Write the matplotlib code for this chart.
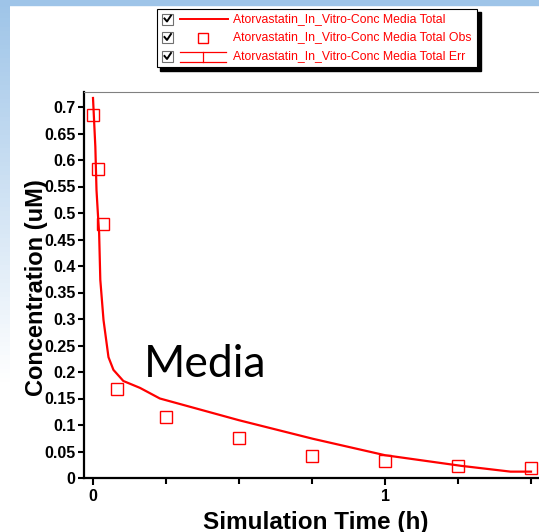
"""
Atorvastatin in-vitro media concentration: simulated total vs observed,
drawn as a slide panel with the checkbox-style series legend on top.

Output: out.png
"""

import matplotlib.pyplot as plt
import numpy as np
from matplotlib.lines import Line2D
from matplotlib.patches import Rectangle
from matplotlib.ticker import FixedLocator, FuncFormatter

W, H, DPI = 539, 532, 100
RED = "#ff0000"

# simulated media total (h, uM)
sim_time = [0.0, 0.008, 0.012, 0.018, 0.021, 0.025, 0.036, 0.053, 0.070,
            0.104, 0.161, 0.229, 0.5, 0.753, 1.0, 1.26, 1.43, 1.5]
sim_conc = [0.717, 0.625, 0.543, 0.487, 0.462, 0.374, 0.298, 0.228, 0.204,
            0.183, 0.170, 0.150, 0.109, 0.074, 0.043, 0.023, 0.012, 0.012]

# observed media total (h, uM)
obs_time = [0.0, 0.0167, 0.0333, 0.0833, 0.25, 0.5, 0.75, 1.0, 1.25, 1.5]
obs_conc = [0.684, 0.583, 0.479, 0.168, 0.115, 0.075, 0.042, 0.032, 0.023, 0.019]

series_names = [
    "Atorvastatin_In_Vitro-Conc Media Total",
    "Atorvastatin_In_Vitro-Conc Media Total Obs",
    "Atorvastatin_In_Vitro-Conc Media Total Err",
]

y_ticks = [0.05 * k for k in range(15)]
x_major = [0, 1]
x_minor = [0.25, 0.5, 0.75, 1.25, 1.5]

BOLD = dict(family="Liberation Sans", weight="bold")


def px(x, y):
    """pixel position (origin top-left) -> figure fraction"""
    return x / W, 1 - y / H


def main():
    fig = plt.figure(figsize=(W / DPI, H / DPI), dpi=DPI)

    # slide background: blue band on top, fading blue strip on the left
    bg = fig.add_axes([0, 0, 1, 1], zorder=-5)
    bg.set_xlim(0, W)
    bg.set_ylim(H, 0)
    bg.axis("off")
    blue = np.array([0.62, 0.77, 0.91])
    fade = np.clip(np.linspace(0, 1, 100) / 0.85, 0, 1)[:, None]
    strip = blue * (1 - fade) + 1.0 * fade
    bg.imshow(strip[:, None, :], extent=(0, 10, 450, 0), aspect="auto")
    bg.add_patch(Rectangle((0, 0), W, 5, color=blue))

    # main plot
    l, b = px(84, 478)
    ax = fig.add_axes([l, b, 461 / W, 386 / H])
    ax.plot(sim_time, sim_conc, color=RED, lw=1.6, zorder=3)
    ax.plot(obs_time, obs_conc, ls="none", marker="s", ms=8,
            mfc="none", mec=RED, mew=1.0, zorder=4, clip_on=False)

    ax.set_xlim(-9 / 292, 452 / 292)
    ax.set_ylim(0, 386 / 530)

    ax.yaxis.set_major_locator(FixedLocator(y_ticks))
    ax.yaxis.set_major_formatter(FuncFormatter(lambda v, _: f"{v:.2f}".rstrip("0").rstrip(".")))
    ax.xaxis.set_major_locator(FixedLocator(x_major))
    ax.xaxis.set_minor_locator(FixedLocator(x_minor))

    ax.tick_params(axis="y", direction="out", length=4, width=1.5, pad=2,
                   labelsize=11.5)
    ax.tick_params(axis="x", which="major", direction="out", length=5,
                   width=1.5, pad=3, labelsize=11.5)
    ax.tick_params(axis="x", which="minor", direction="out", length=4, width=1.5)
    for lab in ax.get_xticklabels() + ax.get_yticklabels():
        lab.set_fontfamily("Liberation Sans")
        lab.set_fontweight("bold")

    for side in ("left", "bottom"):
        ax.spines[side].set_linewidth(1.6)
    ax.spines["top"].set_color("#808080")
    ax.spines["top"].set_linewidth(0.8)
    ax.spines["right"].set_visible(False)

    # the y label sits over the tick labels, as on the original slide
    ax.set_ylabel("Concentration (uM)", fontsize=17, va="center", **BOLD)
    ax.yaxis.set_label_coords(-0.102, 0.492)
    ax.set_xlabel("Simulation Time (h)", fontsize=17.5, va="center", **BOLD)
    ax.xaxis.set_label_coords(0.503, -0.114)

    # overlay in pixel coordinates for the legend panel and caption
    ov = fig.add_axes([0, 0, 1, 1], zorder=10)
    ov.set_xlim(0, W)
    ov.set_ylim(H, 0)
    ov.axis("off")
    ov.patch.set_alpha(0)

    ov.add_patch(Rectangle((160, 12), 321, 59, color="black"))  # drop shadow
    ov.add_patch(Rectangle((157, 9), 320, 58, facecolor="white",
                           edgecolor="black", lw=0.8))

    rows = [19, 37.5, 56.5]
    for y, name in zip(rows, series_names):
        # checkbox
        ov.add_patch(Rectangle((162, y - 5.5), 11, 11, facecolor="white",
                               edgecolor="#707070", lw=0.8))
        ov.add_line(Line2D([164.5, 167, 171], [y - 0.5, y + 2.5, y - 3.5],
                           color="black", lw=1.4))
        ov.text(233, y, name, color=RED, fontsize=8.8, va="center",
                family="Liberation Sans")

    # legend glyphs
    ov.add_line(Line2D([180, 228], [rows[0], rows[0]], color=RED, lw=1.4))
    ov.add_line(Line2D([203], [rows[1]], ls="none", marker="s", ms=7,
                       mfc="none", mec=RED, mew=1.0))
    y3 = rows[2]
    ov.add_line(Line2D([180, 226], [y3 - 4.5, y3 - 4.5], color=RED, lw=0.9))
    ov.add_line(Line2D([180, 226], [y3 + 5, y3 + 5], color=RED, lw=0.9))
    ov.add_line(Line2D([203, 203], [y3 - 4.5, y3 + 5], color=RED, lw=0.9))

    ov.text(144, 377, "Media", fontsize=32, family="Lato", color="black",
            ha="left", va="baseline")

    fig.savefig("out.png", dpi=DPI)


if __name__ == "__main__":
    main()
